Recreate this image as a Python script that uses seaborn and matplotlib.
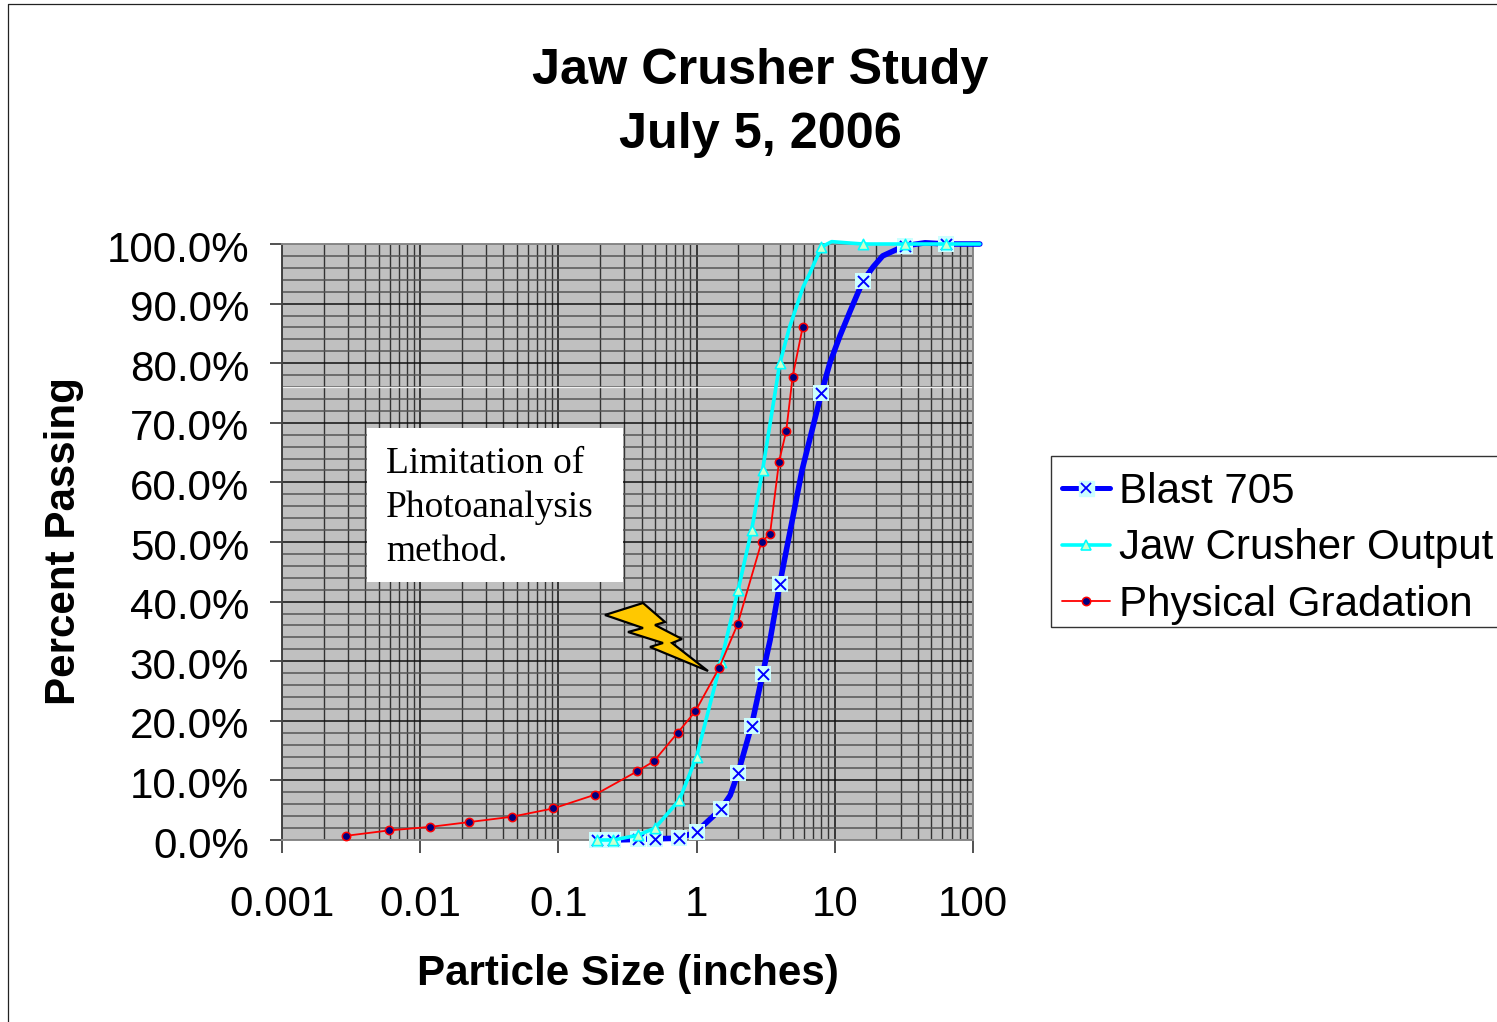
import numpy as np
import pandas as pd
import matplotlib
matplotlib.use("Agg")
import matplotlib.pyplot as plt
from matplotlib.legend_handler import HandlerTuple
from matplotlib.lines import Line2D
from matplotlib.patches import Polygon, Rectangle
from matplotlib.transforms import ScaledTranslation
import seaborn as sns

W, H = 1497, 1022

# marker points
blast_size = [0.19, 0.25, 0.375, 0.5, 0.75, 1.0, 1.5, 2.0, 2.5, 3.0, 4.0, 8.0, 16.0, 32.0, 64.0]
blast_pass = [0.0, 0.0, 0.1, 0.2, 0.3, 1.4, 5.2, 11.3, 19.2, 27.8, 43.0, 75.0, 93.8, 99.7, 100.0]
# places where the smoothed line bends between markers
blast_bend_size = [1.75, 3.4, 5.8, 9.2, 10.9, 13.0, 19.0, 22.2, 45.0, 112.0]
blast_bend_pass = [7.5, 33.5, 62.1, 80.0, 84.6, 88.9, 96.2, 98.0, 100.2, 100.0]

jaw_size = [0.19, 0.25, 0.375, 0.5, 0.75, 1.0, 1.5, 2.0, 2.5, 3.0, 4.0, 8.0, 16.0, 32.0, 64.0]
jaw_pass = [0.0, 0.0, 0.8, 2.0, 6.7, 14.0, 29.9, 42.0, 52.0, 62.0, 80.0, 99.5, 100.0, 100.0, 100.0]
jaw_bend_size = [4.7, 5.9, 6.6, 9.5, 12.2, 112.0]
jaw_bend_pass = [86.0, 92.8, 95.1, 100.4, 100.2, 100.0]

phys_size = [0.0029, 0.0059, 0.0118, 0.0225, 0.046, 0.092, 0.184, 0.37, 0.49, 0.73, 0.98,
             1.45, 1.98, 2.95, 3.4, 3.95, 4.45, 4.95, 5.85]
phys_pass = [0.7, 1.6, 2.2, 3.0, 3.9, 5.3, 7.6, 11.5, 13.2, 18.0, 21.6,
             28.8, 36.2, 50.0, 51.4, 63.5, 68.6, 77.7, 86.0]

x_ticks = [0.001, 0.01, 0.1, 1, 10, 100]
x_tick_labels = ["0.001", "0.01", "0.1", "1", "10", "100"]
y_ticks = [0, 10, 20, 30, 40, 50, 60, 70, 80, 90, 100]
y_tick_labels = ["0.0%", "10.0%", "20.0%", "30.0%", "40.0%", "50.0%",
                 "60.0%", "70.0%", "80.0%", "90.0%", "100.0%"]
series_names = ["Blast 705", "Jaw Crusher Output", "Physical Gradation"]

# lightning bolt outline, picture pixels
bolt_px = [(605, 615), (643, 603), (665, 622), (655, 625), (682, 639), (672, 643),
           (708, 671), (650, 647), (663, 643), (628, 632), (643, 628)]


def fx(px):
    return px / W


def fy(py):
    return 1 - py / H


sns.set_theme(style="ticks")
plt.rcParams["font.family"] = ["Liberation Sans", "DejaVu Sans"]

fig = plt.figure(figsize=(W / 100, H / 100), dpi=100, facecolor="white")
ax = fig.add_axes([fx(282), fy(840), (973 - 282) / W, (840 - 244) / H])
ax.set_facecolor("#C0C0C0")

# outer chart frame
fig.add_artist(Line2D([fx(8), fx(8), 1], [0, fy(4.5), fy(4.5)], color="#222222", lw=0.9))

line_df = pd.DataFrame({
    "size": blast_size + blast_bend_size,
    "passing": blast_pass + blast_bend_pass,
})
jaw_df = pd.DataFrame({
    "size": jaw_size + jaw_bend_size,
    "passing": jaw_pass + jaw_bend_pass,
})
phys_df = pd.DataFrame({"size": phys_size, "passing": phys_pass})

sns.lineplot(data=line_df, x="size", y="passing", ax=ax, color="#0000FF", lw=4.0,
             estimator=None, sort=True, clip_on=False, zorder=5)
ax.scatter(blast_size, blast_pass, marker="s", s=133, color="#CCFFFF", lw=0, zorder=6, clip_on=False)
ax.scatter(blast_size, blast_pass, marker="x", s=63, color="#0000FF", lw=1.4, zorder=7, clip_on=False)

sns.lineplot(data=jaw_df, x="size", y="passing", ax=ax, color="#00FFFF", lw=2.6,
             estimator=None, sort=True, clip_on=False, zorder=8)
ax.scatter(jaw_size, jaw_pass, marker="^", s=55, facecolor="#CCFFCC", edgecolor="#00FFFF",
           lw=1.2, zorder=9, clip_on=False)

sns.lineplot(data=phys_df, x="size", y="passing", ax=ax, color="#FF0000", lw=1.3,
             estimator=None, sort=True, zorder=10)
ax.scatter(phys_size, phys_pass, marker="o", s=36, facecolor="#000080", edgecolor="#FF0000",
           lw=1.1, zorder=11, clip_on=False)

ax.set_xscale("log")
ax.set_xlim(0.001, 100)
ax.set_ylim(0, 100)
ax.set_xticks(x_ticks)
ax.set_xticklabels(x_tick_labels)
ax.set_yticks(y_ticks)
ax.set_yticklabels(y_tick_labels)
ax.set_yticks(np.arange(0, 101, 2), minor=True)
ax.tick_params(axis="x", which="major", length=9.5, width=1.1, color="#222222", pad=23.2,
               labelsize=30.3, labelcolor="black")
ax.tick_params(axis="y", which="major", length=8.6, width=1.1, color="#222222", pad=15,
               labelsize=30.3, labelcolor="black")
ax.tick_params(axis="both", which="minor", length=0)
# Excel's y labels sit a little under their ticks
for lab in ax.get_yticklabels():
    lab.set_transform(lab.get_transform() + ScaledTranslation(0, -2 / 100, fig.dpi_scale_trans))
ax.grid(True, which="major", axis="both", color="#111111", lw=1.1)
ax.grid(True, which="minor", axis="x", color="#333333", lw=1.0)
ax.grid(True, which="minor", axis="y", color="#555555", lw=1.1)
ax.set_axisbelow(True)
ax.axhline(76, color="#F0F0F0", lw=0.9, zorder=1)
for side in ["top", "right", "bottom"]:
    ax.spines[side].set_color("#888888")
    ax.spines[side].set_linewidth(1.4)
ax.spines["left"].set_color("#444444")
ax.spines["left"].set_linewidth(1.4)
ax.set_xlabel("")
ax.set_ylabel("")

fig.text(fx(760), fy(103), "Jaw Crusher Study\nJuly 5, 2006", ha="center", va="center",
         fontsize=36.3, fontweight="bold", linespacing=1.48, color="black")
fig.text(fx(628), fy(974), "Particle Size (inches)", ha="center", va="center",
         fontsize=30.3, fontweight="bold", color="black")
fig.text(fx(64), fy(541), "Percent Passing", ha="center", va="center", rotation=90,
         fontsize=30.3, fontweight="bold", color="black")

# note box and lightning bolt
fig.add_artist(Rectangle((fx(367), fy(582)), (623 - 367) / W, (582 - 428) / H,
                         transform=fig.transFigure, facecolor="white", edgecolor="none", zorder=12))
fig.text(fx(386), fy(508), "Limitation of\nPhotoanalysis\nmethod.", ha="left", va="center",
         fontsize=26.9, family="Liberation Serif", linespacing=1.36, color="black", zorder=13)
fig.add_artist(Polygon([(fx(a), fy(b)) for a, b in bolt_px], closed=True, transform=fig.transFigure,
                       facecolor="#FFC800", edgecolor="black", lw=1.6, zorder=13))

# legend box runs off the right edge of the picture
fig.add_artist(Rectangle((fx(1050.5), fy(627)), (1520 - 1050.5) / W, (627 - 456.5) / H,
                         transform=fig.transFigure, facecolor="white", edgecolor="#333333", lw=1.0))
blast_handle = (Line2D([], [], color="#0000FF", lw=3.6, solid_capstyle="round"),
                Line2D([], [], marker="s", ms=10.8, color="#CCFFFF", lw=0),
                Line2D([], [], marker="x", ms=7.5, color="#0000FF", mew=1.3, lw=0))
jaw_handle = (Line2D([], [], color="#00FFFF", lw=2.6),
              Line2D([], [], marker="^", ms=7.5, mfc="#CCFFCC", mec="#00FFFF", mew=1.2, lw=0))
phys_handle = (Line2D([], [], color="#FF0000", lw=1.3),
               Line2D([], [], marker="o", ms=6, mfc="#000080", mec="#FF0000", mew=1.1, lw=0))
fig.legend([blast_handle, jaw_handle, phys_handle], series_names,
           handler_map={tuple: HandlerTuple(ndivide=1, pad=0)},
           loc="center left", bbox_to_anchor=(fx(1062), fy(548.5)), frameon=False, fontsize=30.3,
           handlelength=1.15, handletextpad=0.2, labelspacing=0.39, borderpad=0, borderaxespad=0,
           labelcolor="black")

fig.savefig("out.png", dpi=100)
